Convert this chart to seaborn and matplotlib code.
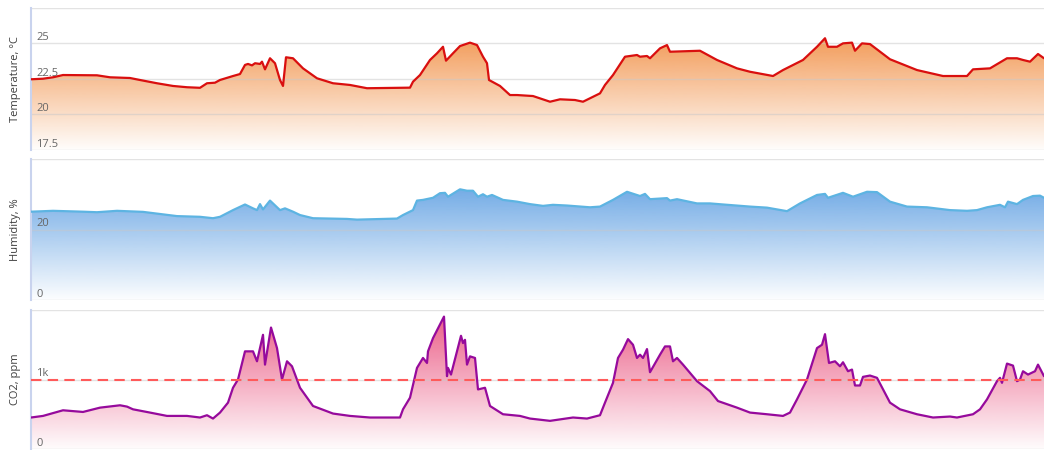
import numpy as np
import matplotlib
matplotlib.use("Agg")
import matplotlib.pyplot as plt
import seaborn as sns
from matplotlib.colors import to_rgb

# readings: sample index along the time axis, and value at that sample
temp_t = [0, 12, 22, 32, 66, 79, 99, 109, 126, 142, 156, 169, 176, 184, 189, 202, 209, 214, 217, 221,
          224, 229, 231, 234, 239, 244, 249, 252, 255, 262, 272, 286, 302, 312, 319, 336, 379, 382, 389, 399,
          406, 412, 415, 422, 429, 439, 446, 452, 456, 458, 469, 479, 486, 502, 519, 529, 544, 552, 569, 574,
          582, 594, 606, 609, 616, 619, 629, 636, 639, 669, 686, 706, 719, 742, 752, 772, 786, 794, 797, 806,
          812, 821, 824, 831, 839, 859, 886, 912, 936, 942, 959, 976, 986, 992, 999, 1007, 1013]
temp_c = [22.48, 22.52, 22.62, 22.78, 22.76, 22.62, 22.57, 22.43, 22.2, 22.01, 21.92, 21.88, 22.2, 22.24, 22.43, 22.71, 22.85, 23.49, 23.56, 23.46,
          23.61, 23.56, 23.72, 23.18, 23.96, 23.61, 22.43, 22.01, 24.03, 23.96, 23.25, 22.55, 22.2, 22.13, 22.08, 21.85, 21.89, 22.31, 22.78, 23.84,
          24.31, 24.77, 23.79, 24.31, 24.82, 25.06, 24.89, 24.07, 23.61, 22.43, 22.01, 21.37, 21.37, 21.3, 20.9, 21.07, 21.02, 20.9, 21.49, 22.08,
          22.78, 24.07, 24.19, 24.07, 24.12, 23.96, 24.66, 24.89, 24.42, 24.49, 23.84, 23.25, 23.01, 22.71, 23.13, 23.84, 24.77, 25.37, 24.77, 24.77,
          25.01, 25.06, 24.49, 25.01, 24.96, 23.89, 23.13, 22.71, 22.71, 23.18, 23.25, 23.96, 23.96, 23.84, 23.72, 24.26, 23.96]

hum_t = [0, 22, 52, 66, 86, 112, 129, 146, 169, 182, 189, 202, 214, 222, 226, 229, 232, 239, 249, 254,
         262, 269, 282, 316, 326, 366, 372, 382, 386, 392, 402, 409, 414, 417, 429, 436, 442, 447, 452, 456,
         461, 472, 486, 499, 512, 522, 536, 559, 569, 582, 596, 609, 614, 619, 636, 639, 646, 666, 679, 692,
         719, 736, 756, 769, 786, 794, 797, 812, 822, 836, 846, 859, 876, 896, 919, 936, 946, 956, 969, 974,
         977, 986, 992, 1002, 1009, 1013]
hum_pct = [25.05, 25.3, 25.05, 24.9, 25.3, 25.0, 24.4, 23.8, 23.6, 23.2, 23.6, 25.5, 27.1, 26.0, 25.5, 27.2, 25.7, 28.2, 25.5, 26.0,
           25.05, 24.1, 23.2, 23.0, 22.8, 23.1, 24.1, 25.5, 28.2, 28.4, 29.0, 30.3, 30.4, 29.3, 31.4, 31.0, 31.0, 29.3, 30.0, 29.3,
           29.8, 28.4, 27.9, 27.2, 26.7, 27.0, 26.8, 26.3, 26.5, 28.4, 30.7, 29.5, 30.1, 28.6, 28.9, 28.2, 28.6, 27.4, 27.4, 27.1,
           26.5, 26.2, 25.2, 27.4, 29.8, 30.1, 29.0, 30.4, 29.3, 30.7, 30.6, 27.9, 26.5, 26.3, 25.5, 25.3, 25.5, 26.3, 27.0, 26.3,
           27.9, 27.2, 28.4, 29.5, 29.6, 29.0]

co2_t = [0, 12, 32, 52, 69, 89, 96, 102, 119, 136, 156, 169, 176, 182, 189, 197, 202, 207, 214, 222,
         226, 232, 234, 240, 246, 251, 256, 261, 269, 282, 302, 319, 339, 369, 372, 379, 386, 392, 396, 397,
         402, 413, 416, 417, 420, 430, 432, 434, 436, 439, 444, 447, 454, 459, 472, 489, 499, 519, 542, 556,
         569, 574, 582, 587, 592, 597, 602, 606, 609, 612, 616, 619, 629, 634, 639, 642, 646, 652, 666, 679,
         687, 706, 719, 736, 752, 759, 766, 776, 786, 791, 794, 798, 804, 809, 812, 817, 821, 824, 829, 832,
         839, 846, 859, 869, 886, 902, 919, 926, 942, 949, 956, 966, 969, 971, 976, 982, 986, 989, 992, 997,
         1004, 1007, 1013]
co2_ppm = [453, 476, 557, 533, 595, 629, 610, 571, 524, 476, 476, 453, 486, 438, 524, 667, 881, 1000, 1405, 1405,
           1262, 1643, 1214, 1748, 1452, 1000, 1262, 1190, 881, 619, 510, 476, 453, 453, 571, 738, 1167, 1310, 1238, 1405,
           1595, 1905, 1048, 1167, 1071, 1629, 1524, 1571, 1214, 1333, 1310, 857, 881, 619, 500, 476, 438, 405, 453, 438,
           486, 667, 952, 1310, 1429, 1581, 1500, 1310, 1357, 1310, 1438, 1105, 1357, 1476, 1476, 1262, 1310, 1214, 976, 833,
           690, 595, 524, 500, 476, 524, 714, 1000, 1452, 1500, 1652, 1238, 1262, 1190, 1248, 1119, 1143, 914, 914, 1038,
           1057, 1024, 667, 571, 500, 453, 467, 453, 500, 571, 714, 976, 1024, 952, 1229, 1200, 976, 1000, 1119, 1071,
           1119, 1214, 1048]

co2_limit = 1000

panels = [
    dict(t=temp_t, v=temp_c, label="Temperature, \u00b0C", ylim=(17.5, 27.5),
         ticks=[17.5, 20, 22.5, 25, 27.5], ticklabels=["17.5", "20", "22.5", "25", ""],
         line="#d90f0f", fill="#f39c5a"),
    dict(t=hum_t, v=hum_pct, label="Humidity, %", ylim=(0, 40),
         ticks=[0, 20, 40], ticklabels=["0", "20", ""],
         line="#5db4e2", fill="#74ace6"),
    dict(t=co2_t, v=co2_ppm, label="CO2, ppm", ylim=(0, 2000),
         ticks=[0, 1000, 2000], ticklabels=["0", "1k", ""],
         line="#960a9c", fill="#ec6189"),
]

sns.set_style("white")
plt.rcParams['font.family'] = ['Open Sans', 'DejaVu Sans']

W, H = 1044, 450
fig = plt.figure(figsize=(W / 100, H / 100), dpi=100)
# panel boxes in pixels: (top, bottom)
boxes = [(8, 150), (159, 300), (310, 449)]


def gradient_fill(ax, x, y, color, ybottom):
    x = np.asarray(x, dtype=float)
    y = np.asarray(y, dtype=float)
    poly = ax.fill_between(x, y, ybottom, facecolor="none", edgecolor="none")
    grad = np.zeros((200, 1, 4))
    grad[:, :, :3] = to_rgb(color)
    grad[:, 0, 3] = np.linspace(1.0, 0.02, 200)
    im = ax.imshow(grad, aspect="auto", origin="upper", zorder=1,
                   extent=[x.min(), x.max(), ybottom, y.max()])
    im.set_clip_path(poly.get_paths()[0], transform=ax.transData)


for p, (top, bot) in zip(panels, boxes):
    ax = fig.add_axes([31 / W, 1 - bot / H, 1 - 31 / W, (bot - top) / H])
    ax.set_facecolor("white")
    gradient_fill(ax, p["t"], p["v"], p["fill"], p["ylim"][0])
    sns.lineplot(x=p["t"], y=p["v"], ax=ax, color=p["line"], linewidth=1.6, zorder=3)
    for tk, tl in zip(p["ticks"], p["ticklabels"]):
        ax.axhline(tk, color="#c8c8c8", alpha=0.5, linewidth=1, zorder=2)
        if tl:
            ax.text(0.005, tk, tl, transform=ax.get_yaxis_transform(), ha="left", va="bottom",
                    fontsize=8, color="#666666", zorder=4)
    ax.set_xlim(0, 1013)
    ax.set_ylim(*p["ylim"])
    ax.set_xticks([])
    ax.set_yticks([])
    for side in ["top", "right", "bottom"]:
        ax.spines[side].set_visible(False)
    ax.spines["left"].set_color("#c9d3ee")
    ax.spines["left"].set_linewidth(1.5)
    ax.set_xlabel("")
    ax.set_ylabel(p["label"], fontsize=8, color="#3d3d3d")
    ax.yaxis.set_label_coords(-0.0095, 0.5)
    if p["label"].startswith("CO2"):
        ax.axhline(co2_limit, color="#ff5a5a", linewidth=1.5, linestyle=(0, (5, 3)), zorder=4)

fig.savefig("out.png", dpi=100)
